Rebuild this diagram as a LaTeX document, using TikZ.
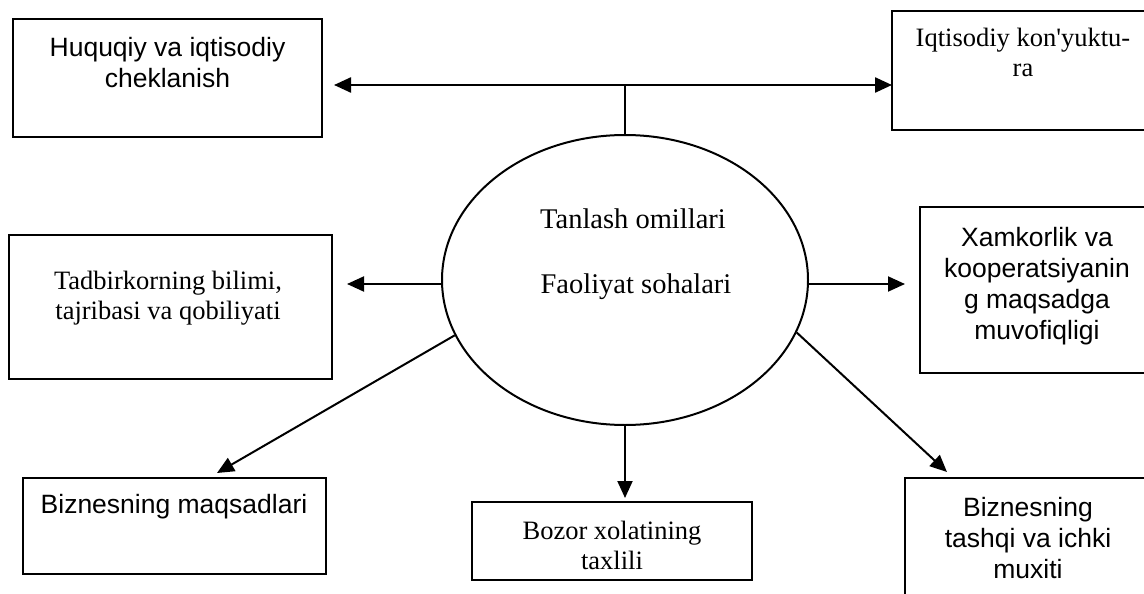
\documentclass[tikz,border=0pt]{standalone}
\usepackage{fontspec}
\setmainfont{Liberation Serif}[Ligatures=TeXOff]
\newfontfamily\arialf{Liberation Sans}
\usetikzlibrary{arrows.meta,shapes.geometric}
\begin{document}
\begin{tikzpicture}[x=1pt,y=-1pt,
  box/.style={draw,line width=2pt,rectangle,inner sep=0pt,outer sep=0pt},
  sanstxt/.style={font=\arialf\fontsize{26.5}{31}\selectfont,align=center,anchor=north,inner sep=0pt},
  seriftxt/.style={font=\fontsize{26.5}{30}\selectfont,align=center,anchor=north,inner sep=0pt},
  elltxt/.style={font=\fontsize{28.5}{34}\selectfont,anchor=base,inner sep=0pt},
  conn/.style={line width=2pt},
  arr/.style={line width=2pt,-{Triangle[length=17pt,width=15pt]}},
  darr/.style={line width=2.4pt,{Triangle[length=17pt,width=15pt]}-{Triangle[length=17pt,width=15pt]}}]
\useasboundingbox (0,0) rectangle (1144,594);
\clip (0,0) rectangle (1144,594);
\fill[white] (0,0) rectangle (1144,594);
% boxes
\node[box,minimum width=309pt,minimum height=118pt] (A) at (167.5,78) {};
\node[box,minimum width=262pt,minimum height=119pt] (B) at (1023,70.5) {};
\node[box,minimum width=323pt,minimum height=144pt] (C) at (170.5,307) {};
\node[box,minimum width=234pt,minimum height=166pt] (D) at (1037,290) {};
\node[box,minimum width=303pt,minimum height=96pt] (E) at (174.5,526) {};
\node[box,minimum width=280pt,minimum height=78pt] (F) at (612,541) {};
\node[box,minimum width=246pt,minimum height=142pt] (G) at (1028,549) {};
% ellipse
\node[draw,ellipse,line width=2pt,minimum width=366pt,minimum height=290pt,inner sep=0pt] (ell) at (625,280) {};
% texts
\node[sanstxt] (tA) at (167.5,37) {Huquqiy va iqtisodiy\\cheklanish};
\node[seriftxt] (tB) at (1023,28) {Iqtisodiy kon'yuktu-\\ra};
\node[seriftxt] (tC) at (168,271) {Tadbirkorning bilimi,\\tajribasi va qobiliyati};
\node[sanstxt] (tD) at (1037,227) {Xamkorlik va\\kooperatsiyanin\\g maqsadga\\muvofiqligi};
\node[sanstxt] (tE) at (174,494) {Biznesning maqsadlari};
\node[seriftxt] (tF) at (612,521) {Bozor xolatining\\taxlili};
\node[sanstxt] (tG) at (1028,497) {Biznesning\\tashqi va ichki\\muxiti};
\node[elltxt] (t1) at (633,228) {Tanlash omillari};
\node[elltxt] (t2) at (636,293) {Faoliyat sohalari};
% connectors
\coordinate (hy) at (625,85);
\coordinate (ly) at (625,284);
\draw[darr,shorten <=12pt] (A.east |- hy) -- (B.west |- hy);
\draw[conn] (ell.north) -- (ell.north |- hy);
\draw[arr,shorten >=15pt] (ell.west |- ly) -- (C.east |- ly);
\draw[arr,shorten >=15pt] (ell.east |- ly) -- (D.west |- ly);
\draw[arr,shorten >=4pt] (ell.south) -- (ell.south |- F.north);
\draw[arr] (ell.198) -- ([xshift=194pt,yshift=5pt]E.north west);
\draw[arr] (ell.343.6) -- ([xshift=42pt,yshift=6pt]G.north west);
\end{tikzpicture}
\end{document}
